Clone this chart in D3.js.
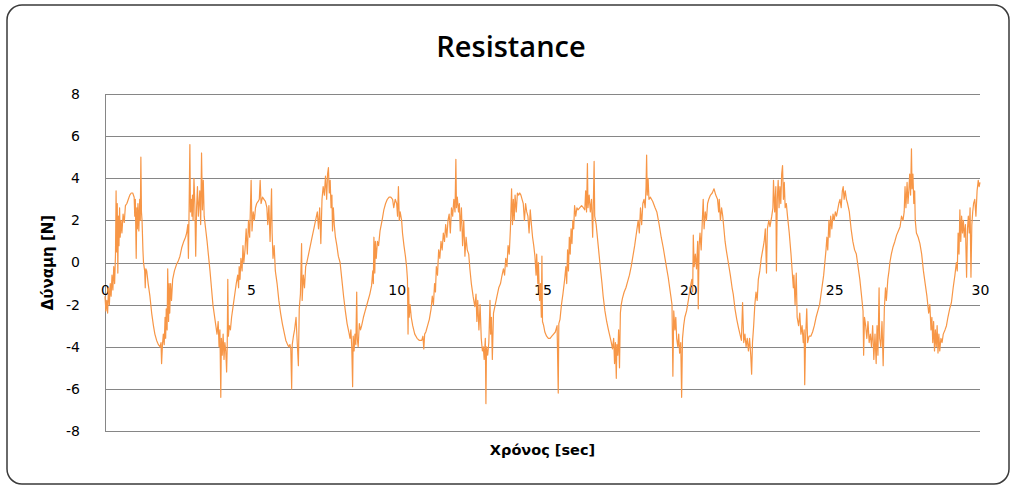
<!DOCTYPE html>
<html>
<head>
<meta charset="utf-8">
<script src="https://cdn.jsdelivr.net/npm/d3@7"></script>
<style>
  html, body { margin: 0; padding: 0; background: #fff; }
  svg { display: block; }
</style>
</head>
<body>
<svg id="chart" width="1013" height="488"></svg>
<script>
// chart text
const chartTitle = 'Resistance';
const xTitle = 'Χρόνος [sec]';
const yTitle = 'Δύναμη [N]';

// axis ticks
const xTicks = [0, 5, 10, 15, 20, 25, 30];
const yTicks = [-8, -6, -4, -2, 0, 2, 4, 6, 8];

// [time sec, force N]
const forceSamples = [
  [0.00,-1.6],[0.03,-2.3],[0.06,-1.8],[0.09,-2.4],[0.12,-1.2],[0.15,-2.0],[0.18,-1.0],[0.21,-1.6],[0.24,-0.6],[0.27,-1.3],
  [0.30,-0.2],[0.33,-1.0],[0.36,0.4],[0.38,3.4],[0.40,0.5],[0.42,2.8],[0.44,-0.5],[0.46,2.2],[0.48,0.8],[0.50,2.6],
  [0.52,1.2],[0.55,2.0],[0.58,1.4],[0.62,2.3],[0.66,1.9],[0.70,2.7],[0.75,2.8],[0.80,3.0],[0.85,3.2],[0.90,3.3],
  [0.95,3.3],[1.00,3.1],[1.02,2.2],[1.04,3.0],[1.07,0.2],[1.09,2.6],[1.11,1.6],[1.13,2.8],[1.16,1.5],[1.19,3.0],
  [1.21,2.0],[1.23,5.0],[1.25,2.4],[1.27,2.0],[1.30,0.6],[1.32,0.0],[1.36,-0.4],[1.38,-1.2],[1.40,-0.3],[1.43,-0.4],
  [1.48,-1.0],[1.54,-1.6],[1.60,-2.4],[1.66,-3.0],[1.71,-3.4],[1.77,-3.7],[1.83,-3.9],[1.89,-4.0],[1.92,-3.8],[1.94,-4.8],
  [1.97,-3.9],[2.00,-3.4],[2.03,-3.9],[2.06,-2.6],[2.08,-3.6],[2.10,-2.2],[2.13,-3.2],[2.15,-0.3],[2.18,-2.8],[2.20,-1.0],
  [2.22,-2.4],[2.25,-1.0],[2.28,-1.8],[2.32,-0.8],[2.38,-0.4],[2.45,-0.1],[2.52,0.1],[2.57,0.3],[2.63,0.7],[2.70,1.0],
  [2.76,1.2],[2.80,1.4],[2.84,1.8],[2.86,0.2],[2.88,2.2],[2.91,5.6],[2.93,2.4],[2.96,3.0],[2.98,2.2],[3.00,3.2],
  [3.02,2.0],[3.05,4.0],[3.08,2.8],[3.11,0.3],[3.14,2.6],[3.17,3.6],[3.20,2.2],[3.25,3.4],[3.28,1.8],[3.31,5.2],
  [3.34,2.5],[3.37,3.9],[3.40,2.2],[3.45,1.6],[3.50,1.0],[3.55,0.3],[3.60,-0.4],[3.65,-1.2],[3.70,-2.0],[3.75,-2.5],
  [3.80,-3.0],[3.84,-3.4],[3.88,-2.8],[3.91,-4.0],[3.94,-3.2],[3.97,-6.4],[3.99,-3.6],[4.02,-4.4],[4.05,-3.4],[4.08,-4.6],
  [4.11,-3.8],[4.14,-4.2],[4.17,-5.2],[4.19,-4.0],[4.21,-0.8],[4.23,-3.5],[4.26,-3.0],[4.30,-3.2],[4.34,-2.6],[4.38,-2.2],
  [4.42,-1.8],[4.46,-1.4],[4.50,-1.0],[4.55,-0.6],[4.58,-1.2],[4.60,-0.2],[4.63,-0.8],[4.66,0.2],[4.70,-0.4],[4.73,0.8],
  [4.76,0.0],[4.80,0.6],[4.84,1.6],[4.88,0.4],[4.92,2.0],[4.96,1.2],[5.01,3.9],[5.04,1.5],[5.08,2.4],[5.12,2.0],
  [5.16,2.6],[5.20,2.8],[5.25,2.9],[5.29,3.0],[5.32,3.9],[5.35,2.8],[5.40,3.1],[5.45,3.0],[5.50,2.9],[5.55,2.6],
  [5.58,1.8],[5.62,2.7],[5.66,1.0],[5.71,3.5],[5.73,1.4],[5.76,0.2],[5.80,0.8],[5.84,-0.4],[5.90,-1.0],[5.96,-1.8],
  [6.02,-2.4],[6.08,-2.9],[6.14,-3.3],[6.20,-3.7],[6.26,-3.9],[6.30,-4.0],[6.34,-3.9],[6.37,-4.1],[6.40,-6.0],[6.42,-3.9],
  [6.46,-3.5],[6.50,-3.2],[6.55,-2.6],[6.58,-3.5],[6.63,-4.9],[6.66,-2.2],[6.70,-1.5],[6.74,0.9],[6.76,-1.8],[6.80,-0.6],
  [6.84,-1.2],[6.88,-0.2],[6.92,0.0],[6.98,0.4],[7.04,0.8],[7.10,1.2],[7.16,1.6],[7.22,2.0],[7.28,2.4],[7.32,1.6],
  [7.36,2.6],[7.40,0.9],[7.44,3.0],[7.48,3.6],[7.52,3.2],[7.56,4.1],[7.60,3.0],[7.63,4.2],[7.66,4.5],[7.69,3.3],
  [7.72,3.9],[7.75,2.6],[7.78,3.2],[7.80,1.5],[7.83,2.6],[7.86,1.8],[7.90,1.2],[7.95,0.8],[8.00,0.3],[8.06,0.0],
  [8.12,-0.8],[8.18,-1.6],[8.24,-2.3],[8.30,-2.9],[8.36,-3.3],[8.40,-3.6],[8.43,-3.2],[8.46,-4.0],[8.49,-5.9],[8.51,-3.5],
  [8.54,-4.2],[8.57,-3.4],[8.60,-3.9],[8.63,-1.4],[8.65,-3.6],[8.68,-4.0],[8.72,-2.9],[8.76,-3.2],[8.80,-3.0],[8.86,-2.6],
  [8.92,-2.3],[9.00,-1.9],[9.08,-1.5],[9.14,-1.1],[9.18,-0.4],[9.20,-1.0],[9.22,1.2],[9.25,-0.5],[9.27,1.0],[9.30,0.2],
  [9.34,1.0],[9.38,0.8],[9.43,1.5],[9.50,2.0],[9.56,2.5],[9.62,2.8],[9.68,3.0],[9.74,3.1],[9.80,3.1],[9.86,3.0],
  [9.90,2.6],[9.95,3.0],[10.00,2.8],[10.03,2.2],[10.06,3.6],[10.09,2.0],[10.12,2.4],[10.17,2.0],[10.20,1.4],[10.25,0.8],
  [10.30,0.3],[10.34,-0.2],[10.37,-0.8],[10.39,-3.4],[10.41,-1.2],[10.43,-2.6],[10.46,-2.0],[10.50,-2.6],[10.55,-3.0],[10.62,-3.4],
  [10.70,-3.6],[10.78,-3.7],[10.86,-3.7],[10.90,-3.5],[10.93,-4.1],[10.96,-3.4],[11.00,-3.3],[11.06,-3.0],[11.12,-2.7],[11.18,-2.2],
  [11.22,-1.6],[11.26,-2.0],[11.30,-1.0],[11.33,-1.4],[11.36,-0.2],[11.40,-0.6],[11.44,0.6],[11.48,0.2],[11.52,1.0],[11.56,0.6],
  [11.60,1.4],[11.64,1.0],[11.68,1.8],[11.72,1.2],[11.76,2.0],[11.80,2.3],[11.84,1.4],[11.88,2.6],[11.92,2.2],[11.96,3.0],
  [12.00,2.4],[12.03,4.9],[12.05,2.6],[12.08,3.1],[12.12,2.4],[12.15,2.8],[12.18,1.5],[12.22,2.6],[12.26,0.8],[12.30,2.0],
  [12.34,0.3],[12.38,1.2],[12.42,0.6],[12.47,0.4],[12.51,-0.3],[12.56,-1.0],[12.62,-1.6],[12.68,-2.1],[12.72,-1.5],[12.75,-2.8],
  [12.78,-1.8],[12.82,-3.2],[12.86,-2.0],[12.90,-3.6],[12.94,-4.2],[12.97,-4.0],[13.00,-4.6],[13.04,-3.6],[13.06,-6.7],[13.08,-4.0],
  [13.12,-4.4],[13.16,-3.8],[13.20,-1.8],[13.22,-3.4],[13.25,-2.6],[13.28,-4.6],[13.32,-2.4],[13.38,-2.0],[13.44,-1.6],[13.50,-1.2],
  [13.56,-1.0],[13.60,-0.7],[13.66,-0.3],[13.70,-0.6],[13.74,0.2],[13.78,-0.2],[13.82,0.8],[13.86,0.4],[13.90,1.6],[13.94,3.5],
  [13.97,1.8],[14.00,3.0],[14.03,2.0],[14.06,3.2],[14.10,2.4],[14.14,3.3],[14.18,3.2],[14.22,3.3],[14.26,3.2],[14.30,3.0],
  [14.34,2.8],[14.38,2.0],[14.42,2.8],[14.46,2.4],[14.50,2.2],[14.54,1.4],[14.58,2.5],[14.62,1.8],[14.66,1.2],[14.70,0.8],
  [14.74,0.3],[14.78,-0.6],[14.80,0.4],[14.84,-1.0],[14.86,0.0],[14.90,-1.8],[14.93,-1.0],[14.96,-2.6],[14.98,0.3],[15.00,-2.8],
  [15.04,-3.0],[15.08,-3.3],[15.14,-3.5],[15.20,-3.6],[15.26,-3.6],[15.32,-3.5],[15.38,-3.4],[15.44,-3.3],[15.50,-3.0],[15.54,-6.2],
  [15.56,-2.9],[15.60,-2.7],[15.65,-2.0],[15.70,-1.5],[15.76,-0.8],[15.80,-0.2],[15.83,-1.0],[15.86,0.6],[15.89,-0.4],[15.92,1.2],
  [15.95,0.4],[15.98,1.6],[16.01,0.9],[16.04,2.0],[16.07,1.6],[16.10,2.7],[16.14,2.2],[16.18,2.6],[16.22,2.5],[16.28,2.6],
  [16.34,2.7],[16.40,2.6],[16.45,2.5],[16.48,3.4],[16.51,2.4],[16.54,4.7],[16.56,2.6],[16.60,3.2],[16.64,2.4],[16.68,3.0],
  [16.72,1.2],[16.74,2.6],[16.77,4.8],[16.79,2.2],[16.84,1.8],[16.91,0.8],[16.98,-0.2],[17.04,-1.0],[17.08,-1.6],[17.14,-2.3],
  [17.20,-2.8],[17.26,-3.2],[17.31,-3.5],[17.36,-3.8],[17.40,-4.1],[17.44,-3.6],[17.47,-4.8],[17.50,-3.8],[17.53,-5.5],[17.55,-3.9],
  [17.58,-4.4],[17.61,-3.2],[17.64,-5.0],[17.67,-2.4],[17.70,-2.0],[17.74,-1.7],[17.80,-1.4],[17.86,-1.2],[17.92,-0.9],[17.98,-0.6],
  [18.04,-0.2],[18.10,0.3],[18.16,0.8],[18.22,1.4],[18.28,2.0],[18.32,1.4],[18.36,2.6],[18.40,1.8],[18.44,2.8],[18.48,3.0],
  [18.52,2.6],[18.55,3.6],[18.57,5.1],[18.59,3.2],[18.62,4.0],[18.65,3.0],[18.70,3.1],[18.78,2.9],[18.86,2.6],[18.92,2.4],
  [19.00,1.8],[19.07,1.2],[19.14,0.7],[19.20,0.2],[19.26,-0.3],[19.31,-0.7],[19.36,-1.2],[19.40,-1.6],[19.44,-2.0],[19.47,-5.4],
  [19.50,-2.3],[19.54,-3.2],[19.57,-2.6],[19.60,-3.6],[19.64,-4.0],[19.67,-3.4],[19.70,-4.3],[19.74,-3.8],[19.77,-6.4],[19.80,-3.6],
  [19.84,-3.0],[19.88,-2.6],[19.94,-2.3],[20.00,-1.8],[20.06,-1.2],[20.12,-0.8],[20.15,-1.4],[20.17,1.3],[20.20,-0.2],[20.24,0.4],
  [20.28,-0.3],[20.32,1.0],[20.34,-2.2],[20.37,0.8],[20.40,1.4],[20.44,0.6],[20.48,2.0],[20.51,3.0],[20.54,1.6],[20.58,2.4],
  [20.62,2.0],[20.66,2.8],[20.70,3.0],[20.76,3.2],[20.82,3.3],[20.88,3.5],[20.94,3.2],[21.00,3.0],[21.04,2.4],[21.06,3.0],
  [21.10,2.0],[21.14,2.6],[21.18,2.2],[21.22,1.6],[21.26,1.0],[21.30,0.6],[21.37,0.0],[21.44,-0.6],[21.50,-1.2],[21.54,-1.5],
  [21.60,-2.2],[21.66,-2.7],[21.72,-3.1],[21.77,-3.4],[21.82,-3.7],[21.86,-1.9],[21.90,-3.8],[21.94,-3.4],[21.98,-4.0],[22.02,-3.6],
  [22.06,-4.2],[22.10,-3.6],[22.14,-4.4],[22.17,-5.3],[22.20,-3.8],[22.24,-3.0],[22.28,-2.0],[22.32,-1.4],[22.36,-1.8],[22.40,-0.8],
  [22.45,-0.4],[22.50,0.2],[22.57,0.75],[22.60,1.0],[22.64,1.6],[22.68,-0.5],[22.71,1.6],[22.76,2.0],[22.80,1.7],[22.86,2.2],
  [22.90,2.6],[22.92,3.9],[22.96,2.4],[23.00,3.6],[23.02,-0.4],[23.05,3.0],[23.08,3.9],[23.11,2.6],[23.14,3.6],[23.17,2.8],
  [23.20,4.2],[23.23,4.6],[23.26,3.0],[23.29,3.8],[23.32,2.6],[23.36,2.8],[23.40,2.2],[23.46,1.4],[23.52,0.4],[23.56,-0.4],
  [23.60,-1.2],[23.62,-0.6],[23.66,-2.0],[23.70,-0.5],[23.73,-2.6],[23.78,-3.0],[23.82,-2.4],[23.86,-3.4],[23.90,-3.0],[23.94,-3.8],
  [23.97,-3.2],[23.99,-5.8],[24.02,-3.6],[24.06,-2.2],[24.09,-3.8],[24.14,-3.5],[24.20,-3.5],[24.26,-3.3],[24.32,-3.0],[24.38,-2.6],
  [24.44,-2.3],[24.50,-2.0],[24.56,-1.4],[24.60,-1.0],[24.64,-0.6],[24.68,0.0],[24.72,0.6],[24.75,1.2],[24.78,0.6],[24.82,2.0],
  [24.85,1.2],[24.88,2.2],[24.92,1.6],[24.96,2.3],[25.00,2.0],[25.04,2.4],[25.08,2.2],[25.12,2.5],[25.16,2.8],[25.20,3.0],
  [25.24,2.6],[25.28,3.4],[25.31,3.6],[25.34,3.0],[25.38,3.4],[25.42,3.0],[25.46,2.8],[25.52,2.4],[25.58,1.6],[25.64,1.0],
  [25.70,0.6],[25.76,0.4],[25.82,-0.2],[25.88,-0.8],[25.94,-1.6],[25.99,-2.3],[26.01,-4.4],[26.04,-2.6],[26.08,-3.0],[26.12,-3.6],
  [26.16,-2.8],[26.20,-3.8],[26.24,-3.4],[26.28,-4.0],[26.32,-3.0],[26.36,-4.6],[26.40,-3.4],[26.44,-4.8],[26.47,-3.0],[26.50,-4.4],
  [26.54,-1.2],[26.56,-3.6],[26.60,-4.0],[26.64,-2.8],[26.68,-4.9],[26.72,-2.2],[26.76,-1.2],[26.79,-1.8],[26.84,-0.8],[26.88,-0.4],
  [26.91,0.0],[26.96,0.4],[27.02,0.75],[27.08,1.0],[27.14,1.3],[27.20,1.5],[27.26,1.7],[27.31,2.2],[27.36,2.0],[27.40,2.4],
  [27.43,3.6],[27.46,2.6],[27.50,3.8],[27.53,2.8],[27.56,3.4],[27.59,4.2],[27.62,3.2],[27.65,5.4],[27.67,3.5],[27.70,4.2],
  [27.73,2.8],[27.76,3.4],[27.78,2.0],[27.82,1.4],[27.88,1.2],[27.94,0.9],[28.00,0.4],[28.06,-0.4],[28.12,-1.0],[28.18,-1.6],
  [28.24,-2.4],[28.28,-2.0],[28.32,-3.2],[28.35,-2.6],[28.38,-3.8],[28.41,-2.8],[28.44,-4.2],[28.47,-3.2],[28.50,-4.0],[28.53,-3.0],
  [28.56,-4.3],[28.59,-3.4],[28.62,-4.2],[28.66,-3.6],[28.70,-3.8],[28.74,-3.4],[28.80,-3.2],[28.85,-3.0],[28.90,-2.6],[28.96,-2.2],
  [29.02,-1.9],[29.08,-1.2],[29.14,-0.6],[29.19,0.0],[29.22,-0.4],[29.25,1.4],[29.28,0.4],[29.31,2.5],[29.34,1.0],[29.37,2.2],
  [29.40,1.4],[29.43,2.0],[29.46,1.2],[29.50,1.8],[29.54,-0.7],[29.57,1.6],[29.60,2.2],[29.63,1.4],[29.66,2.6],[29.69,-0.7],
  [29.72,1.8],[29.75,2.4],[29.78,2.8],[29.82,3.0],[29.86,2.2],[29.90,3.4],[29.94,3.9],[29.97,3.6],[30.00,3.8]
];

const width = 1013;
const height = 488;
const plot = { left: 105, right: 980, top: 94, bottom: 431 };

const svg = d3.select('#chart');

// outer chart frame
svg.append('rect')
  .attr('x', 7)
  .attr('y', 5)
  .attr('width', 1002)
  .attr('height', 479)
  .attr('rx', 15)
  .attr('fill', '#fff')
  .attr('stroke', '#3a3a3a')
  .attr('stroke-width', 1.5);

const xScale = d3.scaleLinear()
  .domain([0, 30])
  .range([plot.left, plot.right]);

const yScale = d3.scaleLinear()
  .domain([-8, 8])
  .range([plot.bottom, plot.top]);

// gridlines + y labels (plain hyphen for negatives, like the original)
const yAxis = svg.append('g')
  .attr('transform', `translate(${plot.left}, 0)`)
  .call(d3.axisLeft(yScale)
    .tickValues(yTicks)
    .tickSizeInner(-(plot.right - plot.left))
    .tickSizeOuter(0)
    .tickPadding(25)
    .tickFormat(d => String(d))
  );

yAxis.select('.domain')
  .attr('stroke', '#868686');

yAxis.selectAll('line')
  .attr('stroke', '#868686')
  .attr('shape-rendering', 'crispEdges');

yAxis.selectAll('text')
  .attr('fill', '#000')
  .style('font-family', '"DejaVu Sans", Verdana, sans-serif')
  .style('font-size', '14px');

// x labels sit under the zero line
const xAxis = svg.append('g')
  .attr('transform', `translate(0, ${yScale(0)})`)
  .call(d3.axisBottom(xScale)
    .tickValues(xTicks)
    .tickSize(0)
    .tickPadding(23)
    .tickFormat(d => String(d))
  );

xAxis.select('.domain').remove();

xAxis.selectAll('text')
  .attr('fill', '#000')
  .style('font-family', '"DejaVu Sans", Verdana, sans-serif')
  .style('font-size', '14px');

// the force trace
const line = d3.line()
  .x(d => xScale(d[0]))
  .y(d => yScale(d[1]));

svg.append('path')
  .datum(forceSamples)
  .attr('d', line)
  .attr('fill', 'none')
  .attr('stroke', '#F79646')
  .attr('stroke-width', 1.2)
  .attr('stroke-linejoin', 'round');

// titles
svg.append('text')
  .attr('x', 511)
  .attr('y', 57)
  .attr('text-anchor', 'middle')
  .style('font-family', '"Open Sans", sans-serif')
  .style('font-weight', 600)
  .style('font-size', '29px')
  .text(chartTitle);

svg.append('text')
  .attr('x', (plot.left + plot.right) / 2)
  .attr('y', 455)
  .attr('text-anchor', 'middle')
  .style('font-family', '"DejaVu Sans", sans-serif')
  .style('font-weight', 'bold')
  .style('font-size', '14.5px')
  .text(xTitle);

svg.append('text')
  .attr('transform', `translate(53, ${yScale(0)}) rotate(-90)`)
  .attr('text-anchor', 'middle')
  .style('font-family', '"DejaVu Sans", sans-serif')
  .style('font-weight', 'bold')
  .style('font-size', '15px')
  .text(yTitle);
</script>
</body>
</html>
